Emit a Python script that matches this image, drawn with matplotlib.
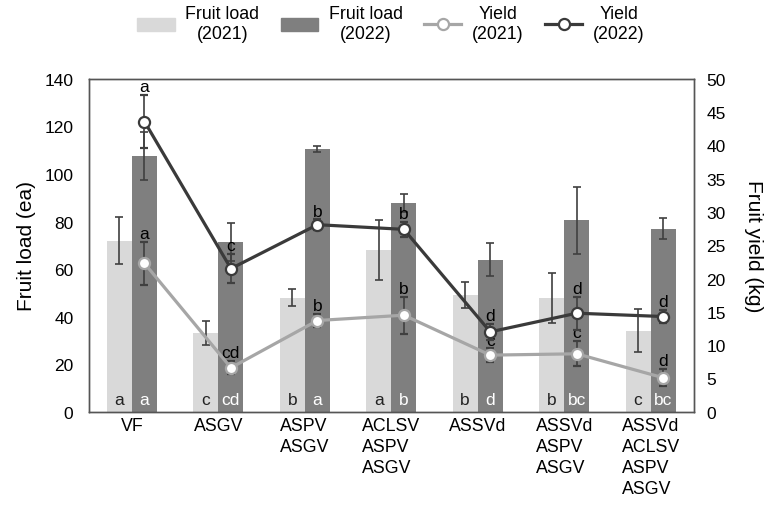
import numpy as np
import matplotlib
matplotlib.use("Agg")
import matplotlib.pyplot as plt
from matplotlib.patches import Patch
from matplotlib.lines import Line2D

plt.rcParams['font.family'] = ['Liberation Sans', 'DejaVu Sans']

# data
groups = ["VF", "ASGV", "ASPV\nASGV", "ACLSV\nASPV\nASGV", "ASSVd",
          "ASSVd\nASPV\nASGV", "ASSVd\nACLSV\nASPV\nASGV"]
load21 = [72, 33, 48, 68, 49, 48, 34]
load21_err = [10, 5, 3.5, 12.5, 5.5, 10.5, 9]
load22 = [107.5, 71.5, 110.5, 88, 64, 80.5, 77]
load22_err = [10, 8, 1.2, 3.8, 7, 14, 4.5]
yield21 = [22.3, 6.6, 13.7, 14.5, 8.5, 8.7, 5.1]
yield21_err = [3.2, 1.0, 1.0, 2.8, 1.0, 1.9, 1.3]
yield22 = [43.6, 21.5, 28.1, 27.4, 12.0, 14.8, 14.3]
yield22_err = [4.0, 2.2, 0.8, 1.1, 1.2, 2.5, 1.0]
let_load21 = ["a", "c", "b", "a", "b", "b", "c"]
let_load22 = ["a", "cd", "a", "b", "d", "bc", "bc"]
let_yield21 = ["a", "cd", "b", "b", "c", "c", "d"]
let_yield22 = ["a", "c", "b", "b", "d", "d", "d"]

c_light = "#d9d9d9"
c_dark = "#7f7f7f"
c_line21 = "#a6a6a6"
c_line22 = "#3a3a3a"
c_err = "#404040"

fig = plt.figure(figsize=(7.68, 5.06), dpi=100)
ax = fig.add_axes([0.1155, 0.1844, 0.788, 0.6576])
ax2 = ax.twinx()

x = np.arange(len(groups))
w = 0.29
ax.bar(x - w / 2, load21, w, color=c_light, yerr=load21_err,
       error_kw=dict(ecolor=c_err, elinewidth=1.2, capsize=3, capthick=1.2))
ax.bar(x + w / 2, load22, w, color=c_dark, yerr=load22_err,
       error_kw=dict(ecolor=c_err, elinewidth=1.2, capsize=3, capthick=1.2))

for i in range(len(groups)):
    ax.text(x[i] - w / 2, 5, let_load21[i], ha='center', va='center',
            fontsize=12.5, color='#222222')
    ax.text(x[i] + w / 2, 5, let_load22[i], ha='center', va='center',
            fontsize=12.5, color='white')

ax.set_xlim(-0.5, len(groups) - 0.5)
ax.set_ylim(0, 140)
ax.set_yticks(np.arange(0, 141, 20))
ax.set_xticks(x)
ax.set_xticklabels(groups, multialignment='left', fontsize=12.8, linespacing=1.3)
ax.tick_params(axis='y', length=0, pad=11, labelsize=12.5)
ax.tick_params(axis='x', length=0, pad=4)
ax.set_ylabel("Fruit load (ea)", fontsize=15, labelpad=6)

ax2.errorbar(x + w / 2, yield21, yerr=yield21_err, color=c_line21, lw=2.3,
             marker='o', ms=8, mfc='white', mec=c_line21, mew=1.6,
             ecolor=c_err, elinewidth=1.2, capsize=3, capthick=1.2, zorder=3)
ax2.errorbar(x + w / 2, yield22, yerr=yield22_err, color=c_line22, lw=2.3,
             marker='o', ms=8, mfc='white', mec=c_line22, mew=1.6,
             ecolor=c_err, elinewidth=1.2, capsize=3, capthick=1.2, zorder=4)
for i in range(len(groups)):
    ax2.text(x[i] + w / 2, yield21[i] + yield21_err[i] + 0.1, let_yield21[i],
             ha='center', va='bottom', fontsize=12.5)
    ax2.text(x[i] + w / 2, yield22[i] + yield22_err[i] + 0.1, let_yield22[i],
             ha='center', va='bottom', fontsize=12.5)
ax2.set_ylim(0, 50)
ax2.set_yticks(np.arange(0, 51, 5))
ax2.tick_params(axis='y', length=0, pad=9, labelsize=12.5)
ax2.set_ylabel("Fruit yield (kg)", fontsize=15, rotation=270, labelpad=27)

for a in (ax, ax2):
    for s in a.spines.values():
        s.set_color('#555555')
        s.set_linewidth(1)

handles = [Patch(color=c_light), Patch(color=c_dark),
           Line2D([], [], color=c_line21, lw=2.3, marker='o', ms=8,
                  mfc='white', mec=c_line21, mew=1.6),
           Line2D([], [], color=c_line22, lw=2.3, marker='o', ms=8,
                  mfc='white', mec=c_line22, mew=1.6)]
labels = ["Fruit load\n(2021)", "Fruit load\n(2022)", "Yield\n(2021)", "Yield\n(2022)"]
leg = fig.legend(handles, labels, ncol=4, frameon=False, fontsize=12.8,
                 loc='center', bbox_to_anchor=(0.509, 0.951),
                 handlelength=2.1, handleheight=0.75, handletextpad=0.6,
                 columnspacing=1.2)
for t in leg.get_texts():
    t.set_multialignment('center')

fig.savefig("out.png", dpi=100)
